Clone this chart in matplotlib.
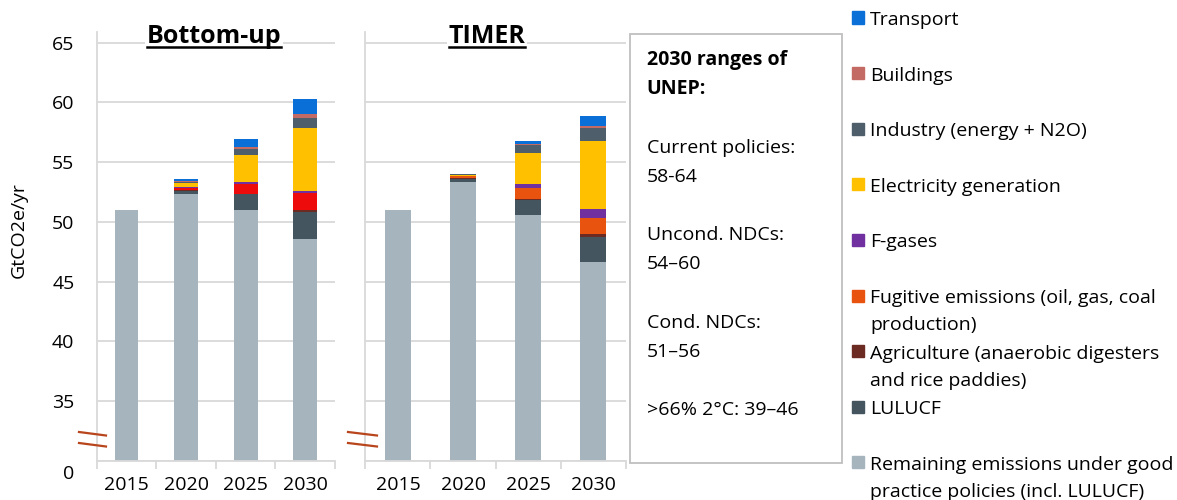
import matplotlib
matplotlib.use("Agg")
import matplotlib.pyplot as plt
from matplotlib.patches import Rectangle
from matplotlib.lines import Line2D
from matplotlib.transforms import ScaledTranslation
import numpy as np

#### -------- データ -------- ####
years = ["2015", "2020", "2025", "2030"]

# Bottom-up (GtCO2e/yr)
bu_remaining = [51.0, 52.3, 51.0, 48.6]
bu_lulucf = [0.0, 0.25, 1.3, 2.2]
bu_agriculture = [0.0, 0.1, 0.05, 0.2]
bu_fugitive = [0.0, 0.2, 0.85, 1.4]
bu_fgases = [0.0, 0.05, 0.1, 0.2]
bu_electricity = [0.0, 0.35, 2.3, 5.3]
bu_industry = [0.0, 0.1, 0.5, 0.8]
bu_buildings = [0.0, 0.05, 0.2, 0.35]
bu_transport = [0.0, 0.15, 0.6, 1.25]

# TIMER (GtCO2e/yr)
tm_remaining = [51.0, 53.3, 50.6, 46.6]
tm_lulucf = [0.0, 0.25, 1.2, 2.15]
tm_agriculture = [0.0, 0.1, 0.15, 0.25]
tm_fugitive = [0.0, 0.15, 0.85, 1.3]
tm_fgases = [0.0, 0.05, 0.4, 0.8]
tm_electricity = [0.0, 0.1, 2.55, 5.65]
tm_industry = [0.0, 0.05, 0.65, 1.1]
tm_buildings = [0.0, 0.0, 0.1, 0.15]
tm_transport = [0.0, 0.05, 0.25, 0.85]

legend_labels = [
    "Transport",
    "Buildings",
    "Industry (energy + N2O)",
    "Electricity generation",
    "F-gases",
    "Fugitive emissions (oil, gas, coal\nproduction)",
    "Agriculture (anaerobic digesters\nand rice paddies)",
    "LULUCF",
    "Remaining emissions under good\npractice policies (incl. LULUCF)",
]

box_lines = [
    ("2030 ranges of", True),
    ("UNEP:", True),
    ("", False),
    ("Current policies:", False),
    ("58-64", False),
    ("", False),
    ("Uncond. NDCs:", False),
    ("54–60", False),
    ("", False),
    ("Cond. NDCs:", False),
    ("51–56", False),
    ("", False),
    (">66% 2°C: 39–46", False),
]

y_ticks = [30, 35, 40, 45, 50, 55, 60, 65]
y_ticklabels = ["0", "35", "40", "45", "50", "55", "60", "65"]

#### -------- 色 -------- ####
c_remaining = "#A6B5BD"
c_lulucf = "#45555F"
c_agriculture = "#6B2A22"
c_fugitive = "#E8540F"
c_fugitive_bu = "#EE0B0B"
c_fgases = "#7030A0"
c_electricity = "#FFC000"
c_industry = "#4E5E6A"
c_buildings = "#C46A64"
c_transport = "#0A70D8"
grid_c = "#D9D9D9"

legend_colors = [c_transport, c_buildings, c_industry, c_electricity, c_fgases,
                 c_fugitive, c_agriculture, c_lulucf, c_remaining]

#### -------- グラフ設定 -------- ####
plt.rcParams["font.family"] = ["Open Sans", "DejaVu Sans"]
plt.rcParams["font.size"] = 14

W, H = 1177, 500
fig = plt.figure(figsize=(W / 100, H / 100), dpi=100)


def fx(px):
    return px / W


def fy(py):
    return 1 - py / H


ax_bu = fig.add_axes([fx(96.7), fy(460.7), fx(335) - fx(96.7), fy(32) - fy(460.7)])
ax_tm = fig.add_axes([fx(365.3), fy(460.7), fx(626) - fx(365.3), fy(32) - fy(460.7)])

panels = [
    (ax_bu, "Bottom-up", 0.492,
     [bu_remaining, bu_lulucf, bu_agriculture, bu_fugitive, bu_fgases,
      bu_electricity, bu_industry, bu_buildings, bu_transport],
     [c_remaining, c_lulucf, c_agriculture, c_fugitive_bu, c_fgases,
      c_electricity, c_industry, c_buildings, c_transport]),
    (ax_tm, "TIMER", 0.467,
     [tm_remaining, tm_lulucf, tm_agriculture, tm_fugitive, tm_fgases,
      tm_electricity, tm_industry, tm_buildings, tm_transport],
     [c_remaining, c_lulucf, c_agriculture, c_fugitive, c_fgases,
      c_electricity, c_industry, c_buildings, c_transport]),
]

x = np.arange(len(years))
titles = []
for ax, title, tx, series, colors in panels:
    # 積み上げ棒
    bottom = np.zeros(len(years))
    for vals, col in zip(series, colors):
        ax.bar(x, vals, width=0.4, bottom=bottom, color=col, zorder=2)
        bottom += np.array(vals)

    ax.set_xlim(-0.5, 3.5)
    ax.set_ylim(30, 65.9)
    ax.set_yticks(y_ticks)
    ax.yaxis.grid(True, color=grid_c, lw=1.3)
    ax.set_axisbelow(True)
    ax.tick_params(axis="y", length=0, pad=16)
    for s in ["top", "right"]:
        ax.spines[s].set_visible(False)
    for s in ["left", "bottom"]:
        ax.spines[s].set_color(grid_c)
        ax.spines[s].set_linewidth(1.3)

    ax.set_xticks(np.arange(-0.5, 4, 1))
    ax.set_xticklabels([])
    ax.tick_params(axis="x", which="major", length=6, width=1.3, color=grid_c)
    ax.set_xticks(x, minor=True)
    ax.set_xticklabels(years, minor=True)
    ax.tick_params(axis="x", which="minor", length=0, pad=11)

    t = ax.text(tx, 65, title, transform=ax.get_yaxis_transform(),
                ha="center", va="baseline", fontsize=18, fontweight="bold",
                bbox=dict(facecolor="white", edgecolor="none", pad=1), zorder=5)
    titles.append((ax, t))

ax_bu.set_yticklabels(y_ticklabels)
ax_tm.set_yticklabels([])
# 軸の省略 (0) ラベルを少し下げる
lab0 = ax_bu.get_yticklabels()[0]
lab0.set_transform(lab0.get_transform() + ScaledTranslation(0, -0.11, fig.dpi_scale_trans))

ax_bu.set_ylabel("GtCO2e/yr", fontsize=14)
ax_bu.yaxis.set_label_coords(-0.29, 0.538)

# 軸の省略マーク
for x0, x1 in [(79, 106), (348, 377)]:
    for y0 in [432, 443]:
        fig.add_artist(Line2D([fx(x0), fx(x1)], [fy(y0), fy(y0 + 3.5)],
                              transform=fig.transFigure, color="#B8451C", lw=1.6))

# タイトルの下線
fig.canvas.draw()
for ax, t in titles:
    bb = t.get_window_extent()
    yb = ax.transData.transform((0, 65))[1] - 4
    fig.add_artist(Line2D([bb.x0 / W, bb.x1 / W], [yb / H, yb / H],
                          transform=fig.transFigure, color="black", lw=1.8, zorder=6))

# UNEP レンジのボックス
fig.add_artist(Rectangle((fx(630), fy(463)), fx(842) - fx(630), fy(34) - fy(463),
                         transform=fig.transFigure, fill=False, edgecolor="#BFBFBF", lw=1.3))
for k, (line, bold) in enumerate(box_lines):
    if line:
        fig.text(fx(646.7), fy(65 + 29.2 * k), line, ha="left", va="baseline",
                 fontsize=14, fontweight="bold" if bold else "normal")

# 凡例
for i, (lab, col) in enumerate(zip(legend_labels, legend_colors)):
    base = 25 + 55.6 * i
    fig.add_artist(Rectangle((fx(852), fy(base - 1.5)), 12 / W, 12 / H,
                             transform=fig.transFigure, color=col))
    for j, part in enumerate(lab.split("\n")):
        fig.text(fx(870), fy(base + 27.5 * j), part, ha="left", va="baseline", fontsize=14)

fig.savefig("out.png", dpi=100)
